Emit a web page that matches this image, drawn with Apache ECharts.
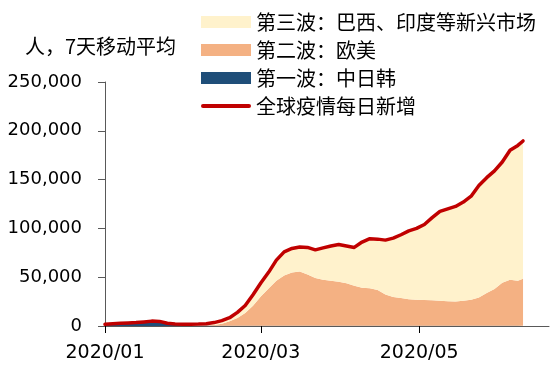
<!DOCTYPE html>
<html><head><meta charset="utf-8">
<script src="https://cdn.jsdelivr.net/npm/echarts@6/dist/echarts.min.js"></script>
<style>html,body{margin:0;padding:0;background:#fff}#c{width:559px;height:373px}</style>
</head><body><div id="c"></div>
<script>
// sampled dates (every ~3 days)
const sampleDates = ["2020/01/01","2020/01/04","2020/01/07","2020/01/10","2020/01/13","2020/01/16","2020/01/19","2020/01/22","2020/01/25","2020/01/28","2020/01/31","2020/02/03","2020/02/06","2020/02/09","2020/02/12","2020/02/15","2020/02/18","2020/02/21","2020/02/24","2020/02/27","2020/03/01","2020/03/04","2020/03/07","2020/03/10","2020/03/13","2020/03/16","2020/03/19","2020/03/22","2020/03/25","2020/03/28","2020/03/31","2020/04/03","2020/04/06","2020/04/09","2020/04/12","2020/04/15","2020/04/18","2020/04/21","2020/04/24","2020/04/27","2020/04/30","2020/05/03","2020/05/06","2020/05/09","2020/05/12","2020/05/15","2020/05/18","2020/05/21","2020/05/24","2020/05/27","2020/05/30","2020/06/02","2020/06/05","2020/06/08","2020/06/10"];
const totalDaily = [1700,2200,2700,3100,3500,4200,5000,4700,2800,2100,1900,1900,2000,2400,3500,5500,8500,14000,21000,32000,44000,55000,67500,76000,79500,81000,80500,78000,80000,82000,83500,82000,80500,86000,89500,89000,88000,90000,93500,97500,100000,104000,111000,117500,120000,122500,127000,133000,144000,152000,159000,168000,180000,185000,189600];
const wave2EuUs = [0,0,0,0,0,0,0,0,0,0,0,0,100,300,800,2000,4500,8000,13000,20500,30000,38000,46000,51500,54500,55500,52500,49000,47000,46000,45000,43500,41000,39000,38500,36500,32000,29500,28500,27000,26600,26300,26000,25500,25000,24800,25500,26500,29000,33500,37500,44000,47000,46000,48000];
const wave1CJK = [1500,2000,2400,2700,3000,3300,4200,3900,2000,1200,800,600,500,400,300,300,300,300,300,300,300,300,300,300,300,300,300,300,300,300,300,300,300,300,300,300,300,300,300,300,300,300,300,300,300,300,300,300,300,300,300,300,300,300,300];
const yTicks = [0,50000,100000,150000,200000,250000];
const xTickDates = ["2020/01/01","2020/03/01","2020/05/01"];
const names = ["第三波：巴西、印度等新兴市场","第二波：欧美","第一波：中日韩","全球疫情每日新增"];

// full daily category list 2020/01/01 .. 2020/06/20
const cats = [];
{ let d = new Date(Date.UTC(2020,0,1)); const end = Date.UTC(2020,5,20);
  while (d.getTime() <= end) { const m=d.getUTCMonth()+1, dd=d.getUTCDate();
    cats.push(d.getUTCFullYear()+"/"+(m<10?"0":"")+m+"/"+(dd<10?"0":"")+dd);
    d = new Date(d.getTime()+86400000); } }
const wave3 = totalDaily.map((t,i)=>Math.max(0, t - wave2EuUs[i] - wave1CJK[i]));
const pairs = arr => sampleDates.map((d,i)=>[d, arr[i]]);
const isTick = (i, v) => xTickDates.indexOf(v) >= 0;

const chart = echarts.init(document.getElementById('c'), null, {renderer:'canvas'});
const axisColor = '#595959';
chart.setOption({
  animation:false,
  grid:{left:105,right:10,top:82,bottom:47},
  title:{text:"人，7天移动平均",left:20,top:31,textStyle:{fontFamily:'Noto Sans CJK SC',fontSize:20,fontWeight:'normal',color:'#000'}},
  legend:{orient:'vertical',left:196,top:7,itemWidth:50,itemHeight:12,itemGap:8,
    textStyle:{fontFamily:'Noto Sans CJK SC',fontSize:20,color:'#000',lineHeight:20},
    data:[{name:names[0],icon:'rect'},{name:names[1],icon:'rect'},{name:names[2],icon:'rect'},
      {name:names[3],icon:'path://M0,0 M2,4 L48,4 A2,2 0 0 1 48,8 L2,8 A2,2 0 0 1 2,4 Z M50,12'}]},
  xAxis:{type:'category',data:cats,boundaryGap:false,
    axisLine:{lineStyle:{color:axisColor,width:1}},
    axisTick:{show:true,inside:false,length:7,interval:isTick,lineStyle:{color:'#000'}},
    axisLabel:{interval:isTick,margin:18,fontFamily:'DejaVu Sans',fontSize:19,color:'#000',formatter:v=>v.slice(0,7)},
    splitLine:{show:false}},
  yAxis:{type:'value',min:0,max:250000,interval:50000,
    axisLine:{show:true,lineStyle:{color:axisColor,width:1}},
    axisTick:{show:true,length:7,lineStyle:{color:axisColor}},
    axisLabel:{margin:23,fontFamily:'DejaVu Sans',fontSize:18,color:'#000',formatter:v=>v.toLocaleString('en-US')},
    splitLine:{show:false}},
  series:[
    {name:names[2],type:'line',stack:'w',data:pairs(wave1CJK),showSymbol:false,symbol:'none',
      lineStyle:{width:0},itemStyle:{color:'#1F4E79'},areaStyle:{color:'#1F4E79',opacity:1},z:2},
    {name:names[1],type:'line',stack:'w',data:pairs(wave2EuUs),showSymbol:false,symbol:'none',
      lineStyle:{width:0},itemStyle:{color:'#F4B183'},areaStyle:{color:'#F4B183',opacity:1},z:2},
    {name:names[0],type:'line',stack:'w',data:pairs(wave3),showSymbol:false,symbol:'none',
      lineStyle:{width:0},itemStyle:{color:'#FFF2CC'},areaStyle:{color:'#FFF2CC',opacity:1},z:2},
    {name:names[3],type:'line',data:pairs(totalDaily),showSymbol:false,symbol:'none',
      lineStyle:{width:3.5,color:'#C00000',cap:'round',join:'round'},itemStyle:{color:'#C00000'},z:5}
  ]
});
</script></body></html>
